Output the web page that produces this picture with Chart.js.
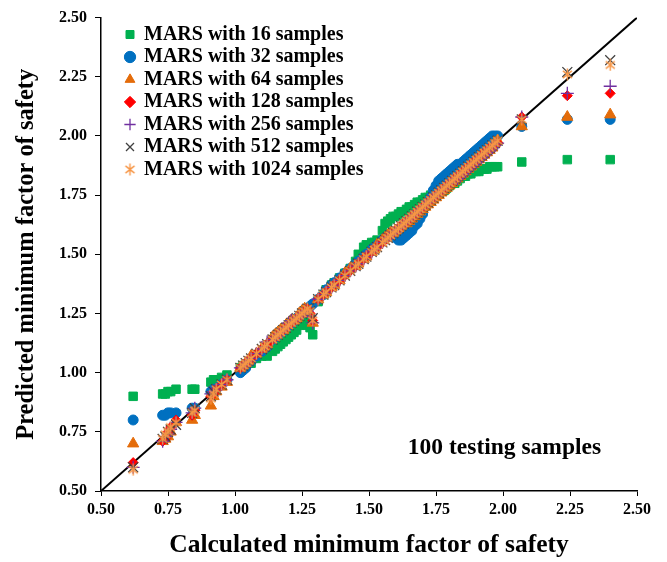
<!DOCTYPE html>
<html>
<head>
<meta charset="utf-8">
<script src="https://cdn.jsdelivr.net/npm/chart.js@4.4.1/dist/chart.umd.min.js"></script>
<style>
html,body{margin:0;padding:0;background:#fff;}
#wrap{width:667px;height:562px;position:relative;}
</style>
</head>
<body>
<div id="wrap"><canvas id="c" width="667" height="562"></canvas></div>
<script>
// Calculated minimum factor of safety (x) for the 100 testing samples
const calculatedFoS = [0.62,0.73,0.74,0.75,0.76,0.78,0.84,0.85,0.91,0.92,
0.93,0.95,0.97,1.02,1.03,1.04,1.05,1.06,1.08,1.10,
1.11,1.12,1.14,1.15,1.16,1.17,1.18,1.19,1.20,1.21,
1.22,1.23,1.24,1.25,1.26,1.27,1.28,1.29,1.31,1.33,
1.34,1.36,1.37,1.39,1.41,1.43,1.45,1.46,1.48,1.49,
1.51,1.52,1.53,1.55,1.56,1.57,1.58,1.59,1.60,1.61,
1.62,1.63,1.64,1.65,1.66,1.67,1.68,1.69,1.70,1.71,
1.72,1.73,1.74,1.75,1.76,1.77,1.78,1.79,1.80,1.81,
1.82,1.83,1.84,1.85,1.86,1.87,1.88,1.89,1.90,1.91,
1.92,1.93,1.94,1.95,1.96,1.97,1.98,2.07,2.24,2.40];

const mars16 = [0.90,0.91,0.91,0.92,0.92,0.93,0.93,0.93,0.96,0.97,
0.97,0.98,0.99,1.02,1.03,1.03,1.04,1.04,1.06,1.07,
1.08,1.07,1.09,1.10,1.11,1.12,1.13,1.14,1.15,1.16,
1.17,1.18,1.20,1.21,1.22,1.20,1.19,1.16,1.30,1.33,
1.35,1.37,1.38,1.40,1.42,1.44,1.47,1.50,1.53,1.54,
1.55,1.55,1.56,1.60,1.63,1.64,1.65,1.66,1.66,1.67,
1.68,1.68,1.69,1.70,1.70,1.71,1.72,1.72,1.73,1.74,
1.74,1.75,1.75,1.76,1.76,1.77,1.77,1.78,1.79,1.80,
1.80,1.81,1.82,1.83,1.83,1.84,1.84,1.85,1.85,1.85,
1.86,1.86,1.86,1.87,1.87,1.87,1.87,1.89,1.90,1.90];

const mars32 = [0.80,0.82,0.82,0.83,0.83,0.83,0.85,0.85,0.92,0.93,
0.93,0.95,0.97,1.00,1.01,1.02,1.04,1.05,1.07,1.09,
1.10,1.11,1.14,1.15,1.16,1.17,1.18,1.19,1.20,1.21,
1.22,1.23,1.24,1.25,1.26,1.27,1.28,1.29,1.31,1.33,
1.35,1.37,1.38,1.40,1.42,1.44,1.46,1.47,1.49,1.50,
1.52,1.53,1.54,1.56,1.57,1.58,1.58,1.58,1.57,1.56,
1.56,1.57,1.58,1.59,1.60,1.62,1.63,1.65,1.67,1.70,
1.72,1.74,1.77,1.79,1.81,1.82,1.83,1.84,1.85,1.86,
1.87,1.88,1.88,1.89,1.90,1.91,1.92,1.93,1.94,1.95,
1.96,1.97,1.98,1.99,2.00,2.00,2.00,2.04,2.07,2.07];

const mars64 = [0.70,0.71,0.72,0.73,0.75,0.79,0.80,0.82,0.86,0.90,
0.92,0.94,0.96,1.02,1.03,1.04,1.05,1.07,1.08,1.10,
1.11,1.12,1.15,1.16,1.17,1.18,1.18,1.20,1.21,1.22,
1.22,1.23,1.25,1.26,1.27,1.26,1.25,1.21,1.31,1.33,
1.34,1.36,1.37,1.39,1.42,1.44,1.45,1.46,1.48,1.49,
1.51,1.52,1.54,1.56,1.57,1.58,1.59,1.59,1.60,1.61,
1.62,1.63,1.63,1.64,1.65,1.66,1.67,1.68,1.69,1.70,
1.71,1.72,1.73,1.74,1.75,1.76,1.77,1.78,1.79,1.80,
1.81,1.82,1.83,1.84,1.85,1.86,1.87,1.88,1.89,1.90,
1.91,1.92,1.93,1.94,1.95,1.97,1.98,2.04,2.08,2.09];

const mars128 = [0.62,0.71,0.72,0.75,0.77,0.80,0.82,0.84,0.90,0.91,
0.93,0.95,0.97,1.02,1.03,1.04,1.05,1.06,1.08,1.10,
1.11,1.12,1.14,1.15,1.16,1.17,1.18,1.19,1.20,1.21,
1.22,1.23,1.24,1.25,1.26,1.27,1.25,1.22,1.31,1.33,
1.34,1.36,1.37,1.39,1.41,1.43,1.45,1.46,1.48,1.49,
1.51,1.52,1.53,1.55,1.56,1.57,1.58,1.59,1.60,1.61,
1.62,1.63,1.64,1.65,1.66,1.67,1.68,1.69,1.70,1.71,
1.72,1.73,1.74,1.75,1.76,1.77,1.78,1.79,1.80,1.81,
1.82,1.83,1.84,1.85,1.86,1.87,1.88,1.89,1.90,1.91,
1.92,1.93,1.94,1.95,1.95,1.96,1.97,2.08,2.17,2.18];

const mars256 = [0.60,0.71,0.73,0.74,0.76,0.79,0.83,0.85,0.91,0.92,
0.93,0.95,0.97,1.02,1.03,1.04,1.05,1.06,1.08,1.10,
1.11,1.13,1.14,1.15,1.16,1.17,1.18,1.19,1.21,1.22,
1.22,1.23,1.24,1.25,1.26,1.26,1.24,1.21,1.31,1.33,
1.34,1.36,1.37,1.39,1.41,1.43,1.45,1.46,1.48,1.49,
1.51,1.52,1.53,1.55,1.56,1.57,1.58,1.59,1.60,1.61,
1.62,1.63,1.64,1.65,1.66,1.67,1.68,1.69,1.70,1.71,
1.72,1.73,1.74,1.75,1.76,1.77,1.78,1.79,1.80,1.81,
1.82,1.82,1.83,1.84,1.85,1.86,1.87,1.88,1.89,1.90,
1.91,1.92,1.93,1.94,1.95,1.96,1.97,2.08,2.18,2.21];

const mars512 = [0.60,0.72,0.73,0.75,0.76,0.78,0.83,0.85,0.90,0.92,
0.93,0.95,0.97,1.02,1.03,1.04,1.05,1.06,1.08,1.10,
1.11,1.12,1.14,1.15,1.16,1.17,1.18,1.19,1.20,1.21,
1.22,1.23,1.24,1.25,1.26,1.27,1.26,1.23,1.31,1.33,
1.34,1.36,1.37,1.39,1.41,1.43,1.45,1.46,1.48,1.49,
1.51,1.52,1.53,1.55,1.56,1.57,1.58,1.59,1.60,1.61,
1.62,1.63,1.64,1.65,1.66,1.67,1.68,1.69,1.70,1.71,
1.72,1.73,1.74,1.75,1.76,1.77,1.78,1.79,1.80,1.81,
1.82,1.83,1.84,1.85,1.86,1.87,1.88,1.89,1.90,1.91,
1.92,1.93,1.94,1.95,1.96,1.97,1.98,2.07,2.27,2.32];

const mars1024 = [0.59,0.72,0.74,0.75,0.77,0.79,0.83,0.84,0.89,0.91,
0.93,0.95,0.97,1.02,1.03,1.04,1.05,1.06,1.08,1.10,
1.11,1.12,1.14,1.15,1.16,1.17,1.18,1.19,1.20,1.21,
1.22,1.23,1.24,1.25,1.26,1.27,1.26,1.22,1.31,1.33,
1.34,1.36,1.37,1.39,1.41,1.43,1.45,1.46,1.48,1.49,
1.51,1.52,1.53,1.55,1.56,1.57,1.58,1.59,1.60,1.61,
1.62,1.63,1.64,1.65,1.66,1.67,1.68,1.69,1.70,1.71,
1.72,1.73,1.74,1.75,1.76,1.77,1.78,1.79,1.80,1.81,
1.82,1.83,1.84,1.85,1.86,1.87,1.88,1.89,1.90,1.91,
1.92,1.93,1.94,1.95,1.96,1.97,1.98,2.07,2.26,2.30];

const seriesLabels = ['MARS with 16 samples','MARS with 32 samples','MARS with 64 samples',
  'MARS with 128 samples','MARS with 256 samples','MARS with 512 samples','MARS with 1024 samples'];
const seriesValues = [mars16, mars32, mars64, mars128, mars256, mars512, mars1024];
const identityLine = [{x:0.5,y:0.5},{x:2.5,y:2.5}];
const axisMin = 0.5, axisMax = 2.5, axisStep = 0.25;
const annotationText = '100 testing samples';
const annotationAt = {x:1.645, y:0.68};

const FONT = '"Liberation Serif", "Times New Roman", serif';

function asteriskImage(color, size, lw){
  const c = document.createElement('canvas');
  c.width = size; c.height = size;
  const g = c.getContext('2d');
  g.strokeStyle = color; g.lineWidth = lw; g.lineCap = 'butt';
  const m = size/2, r = size/2 - 0.5;
  const d = r * 0.75;
  g.beginPath();
  g.moveTo(m, m - r); g.lineTo(m, m + r);
  g.moveTo(m - d, m - d*0.8); g.lineTo(m + d, m + d*0.8);
  g.moveTo(m + d, m - d*0.8); g.lineTo(m - d, m + d*0.8);
  g.stroke();
  return c;
}

const styles = [
  {pointStyle:'rect', color:'#00B050', radius:6, bw:1},
  {pointStyle:'circle', color:'#0070C0', radius:5, bw:1},
  {pointStyle:'triangle', color:'#E46C0A', radius:6.5, bw:1},
  {pointStyle:'rectRot', color:'#FF0000', radius:5, bw:1},
  {pointStyle:'cross', color:'#7030A0', radius:6.5, bw:1.3},
  {pointStyle:'crossRot', color:'#404040', radius:7, bw:1.3},
  {pointStyle:asteriskImage('#F79646', 13, 1.4), color:'#F79646', radius:6, bw:1.3}
];

const datasets = seriesValues.map((vals, i) => ({
  type:'scatter',
  label: seriesLabels[i],
  data: calculatedFoS.map((x, j) => ({x: x, y: vals[j]})),
  pointStyle: styles[i].pointStyle,
  pointRadius: styles[i].radius,
  pointHoverRadius: styles[i].radius,
  backgroundColor: styles[i].color,
  borderColor: styles[i].color,
  borderWidth: styles[i].bw,
  order: 7 - i
}));
datasets.push({
  type:'line',
  label:'1:1',
  data: identityLine,
  borderColor:'#000',
  borderWidth:2,
  pointRadius:0,
  fill:false,
  order: 10
});

const legendShift = {
  id:'legendShift',
  afterLayout(chart){
    const lg = chart.legend;
    if (!lg) return;
    const dx = 22.5, dy = 22;
    lg.left += dx; lg.right += dx; lg.top += dy; lg.bottom += dy;
  }
};

const annotation = {
  id:'annotation',
  afterDraw(chart){
    const ctx = chart.ctx;
    const xs = chart.scales.x, ys = chart.scales.y;
    ctx.save();
    ctx.font = 'bold 23.5px ' + FONT;
    ctx.fillStyle = '#000';
    ctx.textAlign = 'left';
    ctx.textBaseline = 'middle';
    ctx.fillText(annotationText, xs.getPixelForValue(annotationAt.x), ys.getPixelForValue(annotationAt.y));
    ctx.restore();
  }
};

new Chart(document.getElementById('c'), {
  data: { datasets },
  options: {
    responsive:false,
    animation:false,
    events:[],
    layout:{ padding:{left:0, right:30, top:13, bottom:0} },
    plugins:{
      tooltip:{enabled:false},
      legend:{
        position:'chartArea',
        align:'start',
        labels:{
          usePointStyle:true,
          boxWidth:8,
          boxHeight:8,
          padding:2.5,
          color:'#000',
          font:{family:FONT, size:20, weight:'bold'},
          filter:(item) => item.datasetIndex < seriesLabels.length,
          sort:(a,b) => a.datasetIndex - b.datasetIndex
        }
      }
    },
    scales:{
      x:{
        type:'linear', position:'bottom',
        min:axisMin, max:axisMax,
        afterFit:(s) => { s.height = 71; },
        ticks:{ stepSize:axisStep, color:'#000', padding:4,
          font:{family:FONT, size:16, weight:'bold'},
          callback:(v) => Number(v).toFixed(2) },
        grid:{ display:true, drawOnChartArea:false, drawTicks:true, tickLength:5, color:'#000', lineWidth:1 },
        border:{ display:true, color:'#000', width:1.5 },
        title:{ display:true, text:'Calculated minimum factor of safety', color:'#000',
          font:{family:FONT, size:25.5, weight:'bold'}, padding:{top:0, bottom:1} }
      },
      y:{
        type:'linear', position:'left',
        min:axisMin, max:axisMax,
        afterFit:(s) => { s.width = 101; },
        ticks:{ stepSize:axisStep, color:'#000', padding:8,
          font:{family:FONT, size:16, weight:'bold'},
          callback:(v) => Number(v).toFixed(2) },
        grid:{ display:true, drawOnChartArea:false, drawTicks:true, tickLength:6, color:'#000', lineWidth:1 },
        border:{ display:true, color:'#000', width:1.5 },
        title:{ display:true, text:'Predicted minimum factor of safety', color:'#000',
          font:{family:FONT, size:24.5, weight:'bold'}, padding:{top:12, bottom:0} }
      }
    }
  },
  plugins:[legendShift, annotation]
});
</script>
</body>
</html>
